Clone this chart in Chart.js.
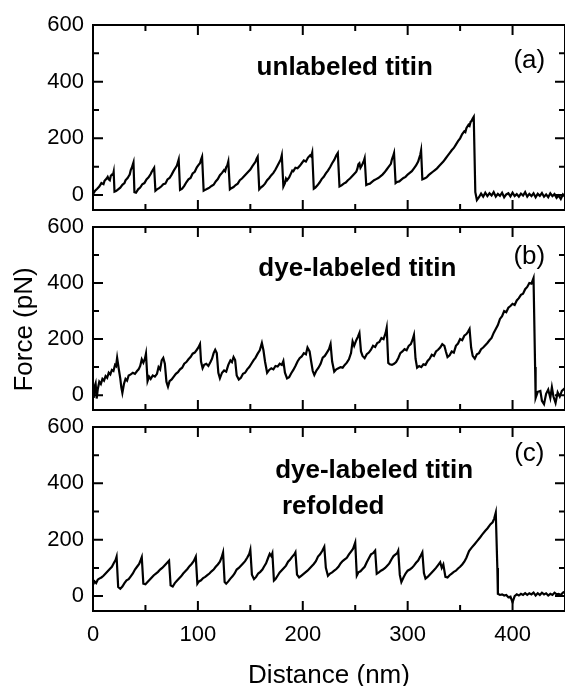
<!DOCTYPE html>
<html>
<head>
<meta charset="utf-8">
<title>Titin force-extension curves</title>
<script src="https://cdn.jsdelivr.net/npm/chart.js@4.4.1/dist/chart.umd.min.js"></script>
<style>
  html, body { margin: 0; padding: 0; background: #fff; }
  #wrap { position: relative; width: 565px; height: 686px; }
  #wrap canvas { position: absolute; left: 0; top: 0; }
</style>
</head>
<body>
<div id="wrap">
  <canvas id="panelA" width="565" height="686"></canvas>
  <canvas id="panelB" width="565" height="686"></canvas>
  <canvas id="panelC" width="565" height="686"></canvas>
</div>
<script>
// --- data (distance in nm, force in pN) ---
// (a) unlabeled titin
const distA = [
  0, 2, 4, 6, 8, 10, 11, 13, 14, 15, 16, 17, 18, 19, 19.7,
  20.5, 22, 24, 26, 28, 30, 31, 33, 34, 35, 36, 37, 38, 38.6,
  39.5, 41, 43, 45, 47, 49, 51, 53, 55, 56, 57, 58.3,
  59.5, 61, 63, 65, 67, 69, 71, 73, 75, 77, 79, 80, 81.7,
  83, 85, 87, 89, 91, 93, 95, 97, 99, 101, 102, 103, 104,
  105.5, 107, 109, 111, 113, 115, 117, 119, 121, 123, 125, 126, 127, 128, 129,
  130.5, 132, 134, 136, 138, 140, 142, 144, 146, 148, 150, 152, 154, 155, 156, 157,
  158.5, 160, 162, 164, 166, 168, 170, 172, 174, 176, 178, 179, 180,
  181.5, 183, 184, 185, 187, 189, 190, 191, 193, 195, 197, 199, 201, 203, 205, 207, 208, 209,
  210.5, 212, 214, 216, 218, 220, 222, 224, 226, 228, 230, 232, 233.4,
  235, 237, 239, 241, 243, 245, 247, 249, 251, 252, 253, 254, 255, 256, 258, 259,
  260.5, 262, 264, 266, 268, 270, 272, 274, 276, 278, 280, 282, 284, 285, 286, 287,
  288.5, 290, 292, 294, 296, 298, 300, 302, 304, 306, 308, 310, 311, 312, 312.8,
  314, 316, 318, 320, 322, 324, 326, 328, 330, 332, 334, 336, 338, 340,
  342, 344, 346, 348, 350, 352, 354, 355, 356, 358, 359, 360, 361, 362, 363,
  364.5, 366, 368, 370, 372, 374, 376, 378, 380, 382, 384, 386, 388, 390,
  392, 394, 396, 398, 400, 402, 404, 406, 408, 410, 412, 414, 416, 418, 420,
  422, 424, 426, 428, 430, 432, 434, 436, 438, 440, 442, 444, 446, 448, 450
];
const forceA = [
  3, 15, 22, 30, 42, 38, 50, 58, 64, 55, 52, 68, 72, 70, 82,
  12, 14, 20, 26, 36, 42, 52, 60, 66, 72, 88, 96, 108, 115,
  10, 8, 20, 26, 38, 42, 55, 62, 74, 82, 88, 96,
  15, 20, 24, 30, 38, 40, 55, 60, 72, 86, 98, 104, 125,
  18, 22, 32, 45, 55, 60, 76, 82, 98, 108, 112, 125, 135,
  15, 18, 22, 26, 32, 36, 48, 56, 70, 78, 88, 84, 98, 104, 118,
  20, 24, 28, 35, 40, 52, 58, 66, 74, 82, 90, 102, 112, 118, 128, 135,
  20, 26, 32, 40, 52, 60, 70, 78, 90, 104, 118, 125, 140,
  30, 42, 58, 52, 62, 78, 86, 84, 96, 94, 102, 112, 122, 118, 132, 140, 136, 150,
  22, 26, 34, 44, 56, 64, 76, 86, 98, 112, 124, 140, 148,
  30, 34, 40, 44, 52, 58, 66, 74, 82, 92, 108, 112, 96, 102, 118, 130,
  35, 38, 40, 46, 52, 56, 60, 66, 72, 80, 90, 100, 110, 126, 136, 148,
  42, 46, 48, 54, 60, 64, 72, 78, 84, 94, 104, 118, 130, 142, 157,
  55, 58, 62, 70, 76, 82, 88, 94, 102, 110, 118, 128, 138, 148,
  158, 166, 178, 190, 200, 215, 225, 222, 236, 248, 244, 258, 262, 270, 276,
  10, -18, -8, 5, -6, 8, -4, 6, -2, 10, -6, 4, -3, 8,
  -8, 2, 6, -5, 8, -4, 3, -6, 5, -2, 10, -6, 4, -4, 6,
  -8, 4, -3, 7, -6, 2, -8, 6, -4, 3, -10, -2, -14, 2, -6
];

// (b) dye-labeled titin
const distB = [
  0, 0.7, 1.5, 2.5, 3.5, 4.5, 6, 7.5, 9, 10.5, 12, 13.5, 15, 16.5, 18, 19.5, 21, 22, 23,
  24.5, 26, 27, 28, 29.5, 31, 32.5, 34, 36, 38, 40, 42, 43.5, 45, 46.5, 48, 49.5, 50.5,
  52, 53.5, 55, 57, 59, 61, 62.5, 64, 65.5, 67, 68.5,
  70, 71.5, 73, 75, 77, 79, 81, 83, 85, 87, 89, 91, 93, 95, 97, 99, 100.5, 102,
  103, 104.5, 106, 108, 110, 112, 113.5, 115, 116.5, 118,
  119.5, 121, 123, 125, 127, 129, 131, 132.5, 134, 135.5,
  137, 139, 141, 143, 145, 147, 149, 151, 153, 155, 157, 159, 161,
  162.5, 164, 166, 168, 170, 172, 174, 176, 178, 180, 181.5,
  183, 185, 187, 189, 191, 193, 195, 197, 199, 201, 203, 204.5, 206.5,
  208, 209.5, 211, 213, 215, 217, 219, 221, 223, 225, 226.5,
  228, 230, 232, 234, 236, 238, 240, 242, 244, 246, 247.5, 249, 251, 252.5, 254,
  255.5, 257, 259, 261, 263, 265, 267, 269, 271, 273, 275, 277, 279, 280,
  281.5, 283, 285, 287, 289, 291, 293, 295, 297, 299, 301, 303, 304.5, 306,
  307.5, 309, 311, 313, 315, 317, 319, 321, 323, 325, 327, 329, 331, 333, 335, 336.5,
  338, 340, 342, 344, 346, 348, 350, 352, 354, 356, 357.5, 359,
  360.5, 362, 364, 366, 368, 370, 372, 374, 376, 378, 380, 382, 384, 386,
  388, 390, 392, 394, 396, 398, 400, 402, 404, 406, 408, 410, 412, 414, 416, 418, 420,
  421.5, 422, 424, 426.5, 428, 430, 432, 434, 436, 437.5, 439, 441, 443, 445, 447, 450
];
const forceB = [
  10, -10, 30, 42, -12, 20, 48, 40, 58, 52, 68, 62, 80, 74, 90, 86, 108, 104, 133,
  95, 60, 28, 8, 40, 58, 52, 70, 74, 80, 76, 86, 92, 104, 128, 116, 130, 148,
  50, 66, 58, 70, 66, 76, 100, 92, 124, 133, 112,
  48, 30, 50, 56, 66, 76, 82, 92, 98, 112, 118, 128, 136, 148, 152, 162, 170, 182,
  120, 96, 108, 112, 104, 118, 130, 150, 162, 150,
  80, 60, 80, 88, 84, 108, 124, 118, 136, 125,
  70, 56, 62, 76, 80, 92, 100, 112, 124, 134, 148, 160, 186,
  160, 120, 80, 90, 96, 92, 104, 102, 112, 108, 122,
  80, 60, 64, 78, 90, 104, 120, 132, 138, 150, 146, 170, 156,
  120, 86, 72, 88, 98, 112, 134, 140, 152, 164, 182,
  120, 84, 92, 96, 100, 98, 108, 116, 128, 150, 192, 176, 196, 208, 222,
  156, 140, 132, 146, 152, 162, 176, 172, 186, 190, 204, 200, 222, 240,
  115, 110, 108, 112, 118, 132, 150, 156, 164, 160, 176, 182, 196, 215,
  130, 98, 104, 100, 110, 108, 122, 130, 144, 140, 156, 162, 170, 182, 176, 155,
  136, 142, 156, 152, 176, 184, 200, 196, 212, 218, 226, 236,
  170, 140, 130, 146, 150, 164, 170, 178, 186, 196, 204, 222, 236, 250,
  272, 282, 300, 296, 312, 318, 326, 322, 338, 346, 358, 362, 378, 386, 400, 398, 418,
  100, -10, 12, 15, -20, -32, 5, 20, -10, 28, -5, -28, 10, -5, 15, 25
];

// (c) dye-labeled titin, refolded
const distC = [
  0, 1.5, 3, 4.5, 6, 8, 10, 12, 14, 16, 18, 20, 21.5, 22.5,
  24, 26, 28, 30, 32, 34, 36, 38, 40, 42, 44, 45.5, 46.5,
  48, 50, 52, 54, 56, 58, 60, 62, 64, 66, 68, 70, 72.5,
  74, 76, 78, 80, 82, 84, 86, 88, 90, 92, 94, 96, 98,
  99.5, 101, 103, 105, 107, 109, 111, 113, 115, 117, 119, 121, 122.5, 124,
  125.5, 127, 129, 131, 133, 135, 137, 139, 141, 143, 145, 147, 149, 150,
  151.5, 153.5, 155.5, 157.5, 159.5, 161.5, 163, 165, 167, 168.5, 170, 171,
  172.5, 174, 176, 178, 180, 182, 184, 186, 188, 190, 192, 193,
  194.5, 196.5, 198.5, 200.5, 202.5, 204.5, 206.5, 208.5, 210.5, 212.5, 214.5, 216.5, 218.5, 220.5,
  222, 224, 226, 228, 230, 232, 234, 236, 238, 240, 242, 244, 246, 248, 250,
  251.5, 253, 255, 257, 259, 261, 263, 265, 267, 269,
  270.5, 272.5, 274.5, 276.5, 278.5, 280.5, 282.5, 284.5, 286.5, 288.5, 290, 291,
  292.5, 294, 296, 298, 300, 302, 304, 306, 308, 310, 312, 314,
  315.5, 317, 319, 321, 323, 325, 327, 329, 331,
  332.5, 334, 336, 338, 340, 342, 344, 346, 348, 350, 352, 354, 356, 358.5,
  361, 364, 366, 369, 371, 374, 376, 379, 381, 382.5, 384,
  385.5, 386, 388, 390, 392, 394, 396, 398, 400, 402, 404, 406, 408, 410, 412,
  414, 416, 418, 420, 422, 424, 426, 428, 430, 432, 434, 436, 438, 440, 442, 444, 446, 448, 450
];
const forceC = [
  40, 52, 46, 58, 62, 66, 72, 80, 88, 96, 104, 118, 128, 140,
  32, 26, 34, 46, 56, 60, 70, 80, 94, 104, 114, 128, 138,
  44, 42, 50, 58, 66, 74, 80, 86, 94, 100, 108, 116, 126,
  38, 34, 46, 54, 62, 70, 80, 88, 96, 106, 114, 124, 140,
  44, 52, 56, 64, 68, 74, 80, 88, 94, 104, 112, 122, 136, 155,
  50, 44, 52, 62, 70, 80, 94, 100, 108, 116, 124, 136, 150, 164,
  76, 60, 68, 80, 86, 94, 104, 116, 136, 150, 142, 152,
  55, 60, 72, 84, 92, 100, 108, 122, 130, 140, 148, 155,
  76, 66, 72, 78, 84, 90, 98, 106, 114, 124, 140, 148, 160, 175,
  100, 72, 80, 84, 90, 96, 104, 116, 124, 130, 136, 148, 158, 168, 190,
  73, 84, 88, 96, 104, 120, 134, 148, 152, 161,
  79, 84, 90, 94, 100, 108, 116, 130, 142, 148, 152, 161,
  75, 50, 66, 80, 90, 94, 100, 108, 118, 126, 140, 155,
  82, 62, 68, 76, 84, 92, 100, 110, 120,
  100, 112, 68, 66, 74, 80, 86, 90, 98, 104, 112, 122, 136, 160,
  172, 185, 194, 208, 218, 232, 240, 255, 262, 275, 296,
  100, 8, 4, 6, 2, 4, -4, -2, -22, 0, 6, 2, 8, 4, 10,
  4, 10, 6, 12, 2, 10, 4, 12, 6, 10, 2, 8, 4, 12, 6, 8, 4, 12, 16
];

const notesA = [
  { text: 'unlabeled titin', x: 240, y: 450, bold: true },
  { text: '(a)', x: 416, y: 472, bold: false }
];
const notesB = [
  { text: 'dye-labeled titin', x: 252, y: 450, bold: true },
  { text: '(b)', x: 416, y: 495, bold: false }
];
const notesC = [
  { text: 'dye-labeled titin', x: 268, y: 443, bold: true },
  { text: 'refolded', x: 229, y: 316, bold: true },
  { text: '(c)', x: 416, y: 505, bold: false }
];

const FAMILY = '"Liberation Sans", Arial, Helvetica, sans-serif';

// frame box with inward ticks on all four sides
const frameTicks = {
  id: 'frameTicks',
  afterDatasetsDraw(chart) {
    const { ctx, chartArea: a, scales: { x, y } } = chart;
    ctx.save();
    ctx.strokeStyle = '#000';
    ctx.lineWidth = 2;
    ctx.strokeRect(a.left, a.top, a.right - a.left, a.bottom - a.top);
    ctx.beginPath();
    for (let v = 0; v <= 450; v += 50) {
      const px = x.getPixelForValue(v);
      const len = v % 100 === 0 ? 10 : 6;
      ctx.moveTo(px, a.bottom); ctx.lineTo(px, a.bottom - len);
      ctx.moveTo(px, a.top); ctx.lineTo(px, a.top + len);
    }
    for (let v = 0; v <= 600; v += 100) {
      const py = y.getPixelForValue(v);
      const len = v % 200 === 0 ? 10 : 6;
      ctx.moveTo(a.left, py); ctx.lineTo(a.left + len, py);
      ctx.moveTo(a.right, py); ctx.lineTo(a.right - len, py);
    }
    ctx.stroke();
    ctx.restore();
  }
};

// text labels placed in data coordinates
const notes = {
  id: 'notes',
  afterDatasetsDraw(chart, args, opts) {
    const { ctx, scales: { x, y } } = chart;
    ctx.save();
    ctx.fillStyle = '#000';
    ctx.textAlign = 'center';
    ctx.textBaseline = 'middle';
    opts.items.forEach(n => {
      ctx.font = (n.bold ? 'bold ' : '') + '26px ' + FAMILY;
      ctx.fillText(n.text, x.getPixelForValue(n.x), y.getPixelForValue(n.y));
    });
    ctx.restore();
  }
};

// shared y title, sits a bit below the middle of panel (b) like the original
const sideTitle = {
  id: 'sideTitle',
  afterDraw(chart, args, opts) {
    if (!opts.text) return;
    const { ctx, chartArea: a } = chart;
    ctx.save();
    ctx.translate(25, (a.top + a.bottom) / 2 + 11);
    ctx.rotate(-Math.PI / 2);
    ctx.fillStyle = '#000';
    ctx.textAlign = 'center';
    ctx.textBaseline = 'middle';
    ctx.font = '26px ' + FAMILY;
    ctx.fillText(opts.text, 0, 0);
    ctx.restore();
  }
};

function makePanel(id, dist, force, items, pad, showX, yTitle) {
  const points = dist.map((d, i) => ({ x: d, y: force[i] }));
  const xScale = {
    type: 'linear',
    min: 0,
    max: 450,
    display: showX,
    grid: { display: false, drawTicks: false },
    border: { display: false },
    ticks: {
      stepSize: 100,
      includeBounds: false,
      autoSkip: false,
      maxRotation: 0,
      padding: 11,
      color: '#000',
      font: { family: FAMILY, size: 22 }
    },
    title: {
      display: showX,
      text: 'Distance (nm)',
      color: '#000',
      font: { family: FAMILY, size: 26, lineHeight: 0.75 },
      padding: { top: 0, bottom: 0 }
    }
  };
  // only the bottom panel carries the x labels
  if (showX) xScale.afterFit = s => { s.height = 75; };

  return new Chart(document.getElementById(id), {
    type: 'line',
    data: {
      datasets: [{
        data: points,
        borderColor: '#000',
        borderWidth: 2.2,
        pointRadius: 0,
        tension: 0,
        fill: false
      }]
    },
    options: {
      responsive: false,
      animation: false,
      layout: { padding: { top: pad.top, bottom: pad.bottom, left: 0, right: 0 } },
      scales: {
        x: xScale,
        y: {
          min: -53,
          max: 600,
          grid: { display: false, drawTicks: false },
          border: { display: false },
          ticks: {
            stepSize: 200,
            includeBounds: false,
            padding: 9,
            color: '#000',
            font: { family: FAMILY, size: 22 }
          },
          afterFit: s => { s.width = 93; }
        }
      },
      plugins: {
        legend: { display: false },
        tooltip: { enabled: false },
        notes: { items: items },
        sideTitle: { text: yTitle }
      }
    },
    plugins: [frameTicks, notes, sideTitle]
  });
}

makePanel('panelA', distA, forceA, notesA, { top: 25, bottom: 476 }, false, null);
makePanel('panelB', distB, forceB, notesB, { top: 227, bottom: 276 }, false, 'Force (pN)');
makePanel('panelC', distC, forceC, notesC, { top: 427, bottom: 0 }, true, null);
</script>
</body>
</html>
